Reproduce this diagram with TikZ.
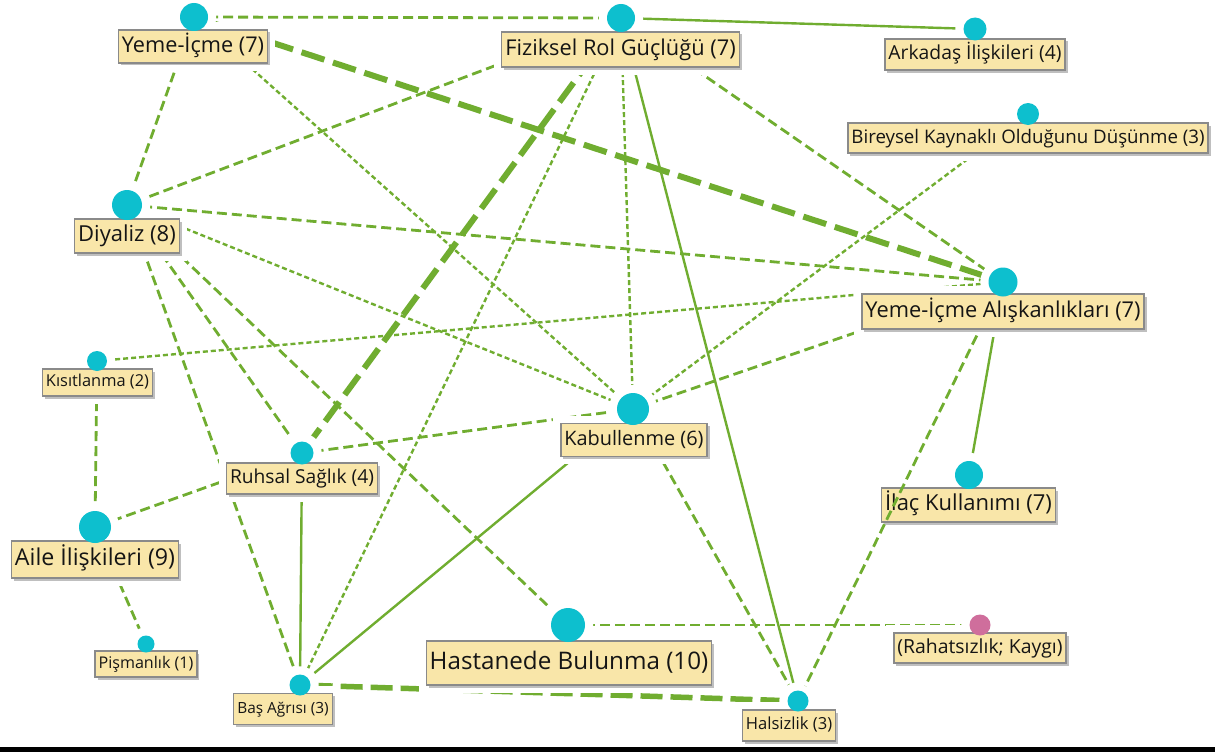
\documentclass[tikz,border=0pt]{standalone}
\usepackage{fontspec}
\setmainfont{Open Sans}
\usetikzlibrary{shadows,calc}

\definecolor{edgegreen}{HTML}{70AD30}
\definecolor{hubcyan}{HTML}{0DBFCE}
\definecolor{hubpink}{HTML}{CF6E9C}
\definecolor{tagfill}{HTML}{F9E6A9}
\definecolor{tagline}{HTML}{8A8A8A}
\definecolor{tagtext}{HTML}{151515}

\pgfdeclarelayer{edges}
\pgfdeclarelayer{halo}
\pgfsetlayers{edges,halo,main}

\begin{document}
\begin{tikzpicture}[x=1pt,y=-1pt,
  hub/.style={circle,fill=hubcyan,inner sep=0pt,minimum size=#1},
  tag/.style 2 args={rectangle,fill=tagfill,draw=tagline,line width=1.3pt,
    text=tagtext,inner xsep=3.5pt,inner ysep=0pt,
    font=\fontsize{#1}{#1}\selectfont,
    text height={0.76*#1pt},text depth={0.22*#1pt},minimum height={#2pt},
    drop shadow={shadow xshift=2.5pt,shadow yshift=-2.5pt,fill=black!45,opacity=0.55}},
  dashline/.style={draw=edgegreen,line width=2.8pt,dash pattern=on 10pt off 5pt},
  dotline/.style={draw=edgegreen,line width=2.4pt,dash pattern=on 5pt off 3pt},
  plainline/.style={draw=edgegreen,line width=2.4pt},
  heavyline/.style={draw=edgegreen,line width=6pt,dash pattern=on 24pt off 9pt}]

\useasboundingbox (0,0) rectangle (1220,752);

% labels
\node[tag={21.7}{33}]   (lYI)   at (193,46.5)   {Yeme-İçme (7)};
\node[tag={21.8}{35}]   (lFiz)  at (620.5,49.5) {Fiziksel Rol Güçlüğü (7)};
\node[tag={19.3}{31}]   (lArk)  at (975,54.5)   {Arkadaş İlişkileri (4)};
\node[tag={18.7}{30}]   (lBir)  at (1028,138)   {Bireysel Kaynaklı Olduğunu Düşünme (3)};
\node[tag={22}{34}]     (lDiy)  at (127,236)    {Diyaliz (8)};
\node[tag={21.8}{35}]   (lYIA)  at (1003,311.5) {Yeme-İçme Alışkanlıkları (7)};
\node[tag={16.4}{27}]   (lKis)  at (97.5,382.5) {Kısıtlanma (2)};
\node[tag={19.2}{31}]   (lRuh)  at (302,478.5)  {Ruhsal Sağlık (4)};
\node[tag={23.2}{37}]   (lAile) at (95,559.5)   {Aile İlişkileri (9)};
\node[tag={19.9}{33}]   (lKab)  at (634,440)    {Kabullenme (6)};
\node[tag={22}{34}]     (lIlac) at (968.5,505)  {İlaç Kullanımı (7)};
\node[tag={19.4}{30}]   (lRah)  at (980,648)    {(Rahatsızlık; Kaygı)};
\node[tag={24.2}{44}]   (lHast) at (569,663)    {Hastanede Bulunma (10)};
\node[tag={15.4}{31}]   (lBas)  at (283,709)    {Baş Ağrısı (3)};
\node[tag={16.6}{31}]   (lHal)  at (789,725.5)  {Halsizlik (3)};
\node[tag={16.1}{26}]   (lPis)  at (146,664)    {Pişmanlık (1)};

% hubs
\node[hub=28] (cYI)   at (194,17)  {};
\node[hub=28] (cFiz)  at (621,18)  {};
\node[hub=23] (cArk)  at (975,29)  {};
\node[hub=22] (cBir)  at (1028,114) {};
\node[hub=30] (cDiy)  at (127,205) {};
\node[hub=29] (cYIA)  at (1003,282) {};
\node[hub=20] (cKis)  at (97,361)  {};
\node[hub=23] (cRuh)  at (302,453) {};
\node[hub=32] (cAile) at (95,527)  {};
\node[hub=32] (cKab)  at (633,409) {};
\node[hub=28] (cIlac) at (969,475) {};
\node[hub=21,fill=hubpink] (cRah) at (980,625) {};
\node[hub=34] (cHast) at (568,625) {};
\node[hub=21] (cBas)  at (300,685) {};
\node[hub=21] (cHal)  at (798,701) {};
\node[hub=17] (cPis)  at (146,644) {};

% white clearance around hubs and labels
\begin{pgfonlayer}{halo}
  \foreach \nd in {cYI,cFiz,cArk,cBir,cDiy,cYIA,cKis,cRuh,cAile,cKab,cIlac,cRah,cHast,cBas,cHal,cPis}
    \fill[white] let \p1=($(\nd.east)-(\nd.center)$) in (\nd.center) circle[radius={\x1+8pt}];
  \foreach \nd in {lYI,lFiz,lArk,lBir,lDiy,lYIA,lKis,lRuh,lAile,lKab,lIlac,lRah,lHast,lBas,lHal,lPis}
    \fill[white] ([shift={(-7pt,7pt)}]\nd.north west) rectangle ([shift={(7pt,-7pt)}]\nd.south east);
\end{pgfonlayer}

% connectors
\begin{pgfonlayer}{edges}
  \draw[dashline]  (cYI) -- (cFiz);
  \draw[plainline] (cFiz) -- (cArk);
  \draw[heavyline] (cYI) -- (cYIA);
  \draw[dashline]  (cYI) -- (cDiy);
  \draw[dotline]   (cYI) -- (cKab);
  \draw[dashline]  (cFiz) -- (cDiy);
  \draw[heavyline] (cFiz) -- (cRuh);
  \draw[dotline]   (cFiz) -- (cBas);
  \draw[dotline]   (cFiz) -- (cKab);
  \draw[plainline] (cFiz) -- (cHal);
  \draw[dashline]  (cFiz) -- (cYIA);
  \draw[dotline]   (cBir) -- (cKab);
  \draw[dashline]  (cDiy) -- (cYIA);
  \draw[dotline]   (cDiy) -- (cKab);
  \draw[dashline]  (cDiy) -- (cRuh);
  \draw[dashline]  (cDiy) -- (cHast);
  \draw[dashline]  (cDiy) -- (cBas);
  \draw[dotline]   (cKis) -- (cYIA);
  \draw[dashline]  (cKis) -- (cAile);
  \draw[dashline]  (cRuh) -- (cKab);
  \draw[dashline]  (cRuh) -- (cAile);
  \draw[plainline] (cRuh) -- (cBas);
  \draw[dashline]  (cKab) -- (cYIA);
  \draw[plainline] (cKab) -- (cBas);
  \draw[dashline]  (cKab) -- (cHal);
  \draw[plainline] (cYIA) -- (cIlac);
  \draw[dashline]  (cAile) -- (cPis);
  \draw[dashline]  (cHast) -- (cRah);
  \draw[heavyline,line width=5.5pt,dash pattern=on 22pt off 8pt] (cBas) -- (cHal);
\end{pgfonlayer}

% this connector runs across the İlaç Kullanımı label
\draw[dashline,shorten <=45pt,shorten >=6pt] (cYIA) -- (cHal);

% rule along the bottom edge
\fill[black] (0,747) rectangle (1215,752);
\end{tikzpicture}
\end{document}
